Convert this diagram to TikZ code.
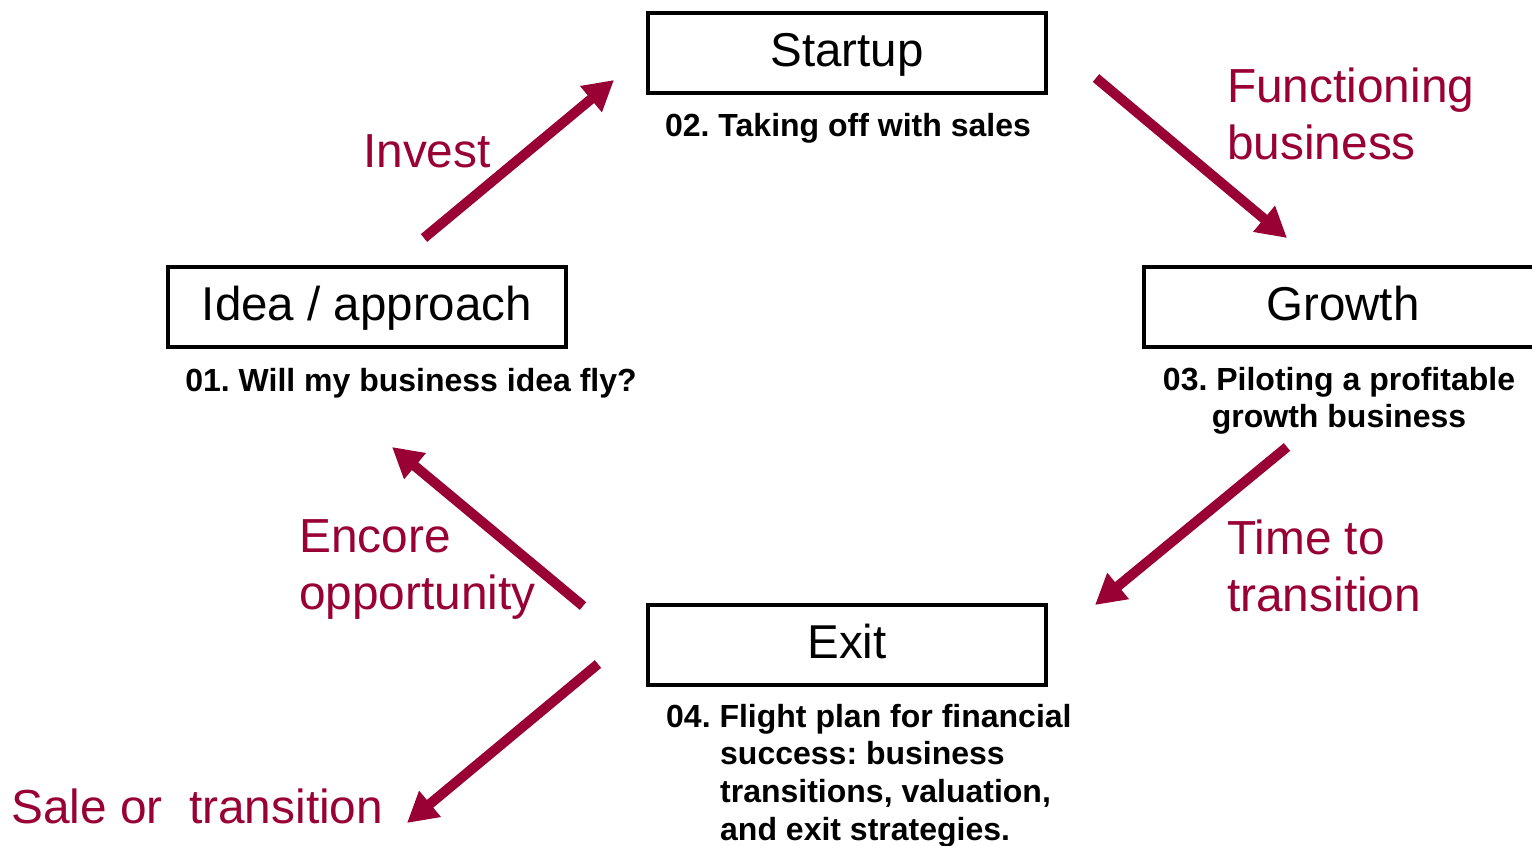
\documentclass[tikz,border=0pt]{standalone}
\usepackage{fontspec}
\setmainfont{Liberation Sans}
\usetikzlibrary{arrows.meta}
\definecolor{maroon}{RGB}{153,0,51}
\frenchspacing
\begin{document}
\begin{tikzpicture}[x=1pt,y=-1pt,
  stage/.style={draw, line width=4pt, minimum width=398pt, minimum height=80pt,
    inner sep=0pt, font=\fontsize{47.5}{57}\selectfont, text height=36pt, text depth=10pt},
  desc/.style={inner sep=0pt, font=\frenchspacing\bfseries\fontsize{32}{37.7}\selectfont},
  lbl/.style={inner sep=0pt, text=maroon, font=\fontsize{47.8}{57}\selectfont, anchor=base west},
  flow/.style={draw=maroon, line width=10pt, -{Triangle[length=30pt,width=32pt]}}
]
\useasboundingbox (0,0) rectangle (1532,846);

% stage boxes
\node[stage] (startup) at (847,53) {Startup};
\node[stage] (idea) at (367,307) {Idea / approach};
\node[stage] (growth) at (1343,307) {Growth};
\node[stage] (exit) at (847,645) {Exit};

% descriptions
\node[desc, anchor=base] (d2) at (848,136) {02. Taking off with sales};
\node[desc, anchor=base] (d1) at (411,391) {01. Will my business idea fly?};
\node[desc, anchor=base] (d3) at (1339,390)
  {\begin{tabular}[t]{@{}c@{}}03. Piloting a profitable\\growth business\end{tabular}};
\node[desc, anchor=base west] (d4) at (666,727)
  {\begin{tabular}[t]{@{}l@{}}04. Flight plan for financial\\
   \hspace{54pt}success: business\\
   \hspace{54pt}transitions, valuation,\\
   \hspace{54pt}and exit strategies.\end{tabular}};

% red labels
\node[lbl] (linvest) at (363,167) {Invest};
\node[lbl] (lfunc) at (1227,102)
  {\begin{tabular}[t]{@{}l@{}}Functioning\\business\end{tabular}};
\node[lbl] (ltime) at (1227,554)
  {\begin{tabular}[t]{@{}l@{}}Time to\\transition\end{tabular}};
\node[lbl] (lencore) at (299,552)
  {\begin{tabular}[t]{@{}l@{}}Encore\\opportunity\end{tabular}};
\node[lbl] (lsale) at (11,823) {Sale or~~transition};

% arrow end points
\coordinate (a1s) at (424,238);  \coordinate (a1e) at (614,80);
\coordinate (a2s) at (1096,78);  \coordinate (a2e) at (1287,238);
\coordinate (a3s) at (1287,447); \coordinate (a3e) at (1095,605);
\coordinate (a4s) at (583,606);  \coordinate (a4e) at (392,447);
\coordinate (a5s) at (598,664);  \coordinate (a5e) at (407,823);

\draw[flow] (a1s) -- (a1e);
\draw[flow] (a2s) -- (a2e);
\draw[flow] (a3s) -- (a3e);
\draw[flow] (a4s) -- (a4e);
\draw[flow] (a5s) -- (a5e);
\end{tikzpicture}
\end{document}
